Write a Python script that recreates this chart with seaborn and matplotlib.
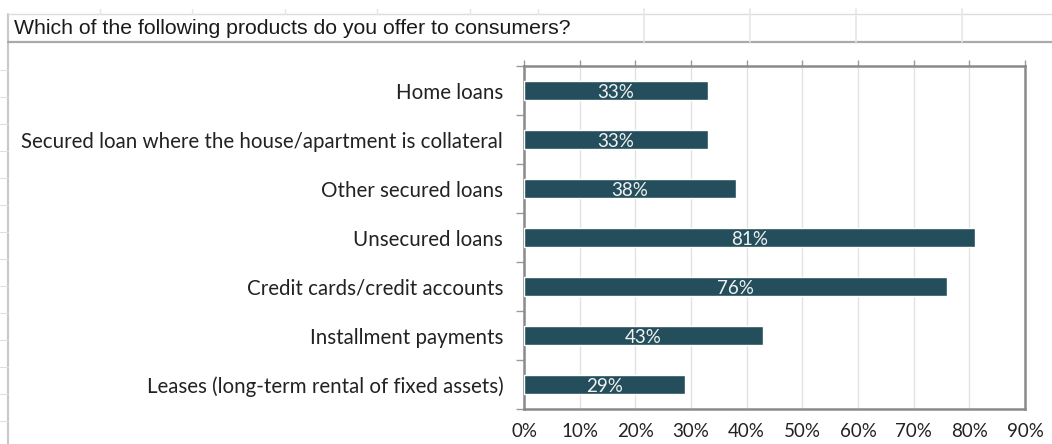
import matplotlib
matplotlib.use("Agg")
import matplotlib.pyplot as plt
import seaborn as sns
from matplotlib.lines import Line2D
from matplotlib.ticker import FixedLocator, FuncFormatter

categories = [
    "Home loans",
    "Secured loan where the house/apartment is collateral",
    "Other secured loans",
    "Unsecured loans",
    "Credit cards/credit accounts",
    "Installment payments",
    "Leases (long-term rental of fixed assets)",
]
values = [33, 33, 38, 81, 76, 43, 29]
x_ticks = [0, 10, 20, 30, 40, 50, 60, 70, 80, 90]
title = "Which of the following products do you offer to consumers?"

BAR = "#244e5b"
FRAME = "#8a8a8a"
GRID = "#e3e3e3"
SHEET = "#c8c8c8"

sns.set_theme(style="white")
plt.rcParams["font.family"] = ["Lato", "DejaVu Sans"]

W, H = 1052, 444
fig = plt.figure(figsize=(W / 100, H / 100), dpi=100)
fig.patch.set_facecolor("white")


def fx(px):
    return px / W


def fy(py):
    return 1 - py / H


# worksheet cell borders behind the chart
fig.add_artist(Line2D([fx(8), fx(8)], [fy(14), fy(444)], color=SHEET, lw=1.5))
fig.add_artist(Line2D([fx(8), 1], [fy(14), fy(14)], color="#dcdcdc", lw=1.0))
fig.add_artist(Line2D([fx(8), 1], [fy(42), fy(42)], color="#aaaaaa", lw=1.6))
for cx in [100, 192, 285, 377, 470, 538]:
    fig.add_artist(Line2D([fx(cx), fx(cx)], [fy(9), fy(14)], color="#e6e6e6", lw=1.0))
for cx in [644, 750, 856, 962]:
    fig.add_artist(Line2D([fx(cx), fx(cx)], [fy(9), fy(42)], color="#e6e6e6", lw=1.2))
for ry in range(70, 444, 27):
    fig.add_artist(Line2D([0, fx(8)], [fy(ry), fy(ry)], color="#e0e0e0", lw=0.8))

# title cell
fig.text(fx(14), fy(29), title, ha="left", va="center", fontsize=15.3,
         family=["Liberation Sans", "DejaVu Sans"], color="#1a1a1a")

ax = fig.add_axes([fx(524), fy(409), fx(1025) - fx(524), fy(66) - fy(409)])
sns.barplot(x=values, y=categories, orient="h", color=BAR, saturation=1,
            width=0.38, ax=ax, zorder=3)

ax.set_xlim(0, 90)
ax.set_ylim(len(categories) - 0.5, -0.5)
ax.xaxis.set_major_locator(FixedLocator(x_ticks))
ax.xaxis.set_major_formatter(FuncFormatter(lambda v, _: f"{v:.0f}%"))
ax.grid(axis="x", color=GRID, lw=1.0, zorder=0)
ax.set_axisbelow(True)
ax.set_xlabel("")
ax.set_ylabel("")

for s in ax.spines.values():
    s.set_visible(True)
    s.set_color(FRAME)
    s.set_linewidth(1.8)

ax.tick_params(axis="x", which="major", top=True, bottom=False, labelbottom=True,
               labeltop=False, direction="out", length=4, width=1.0, color="#9a9a9a",
               pad=6, labelsize=13.5, labelcolor="#222222")
ax.tick_params(axis="y", which="major", left=False, length=0, pad=15,
               labelsize=14.8, labelcolor="#222222")
ax.yaxis.set_minor_locator(FixedLocator([i - 0.5 for i in range(len(categories) + 1)]))
ax.tick_params(axis="y", which="minor", left=True, direction="out", length=6,
               width=1.0, color="#9a9a9a")

for c in ax.containers:
    anns = ax.bar_label(c, labels=[f"{v}%" for v in values], label_type="center",
                        color="#f2f2f2", fontsize=13.5)
    for a in anns:
        a.xyann = (0, -1.5)

fig.savefig("out.png", dpi=100, facecolor="white")
